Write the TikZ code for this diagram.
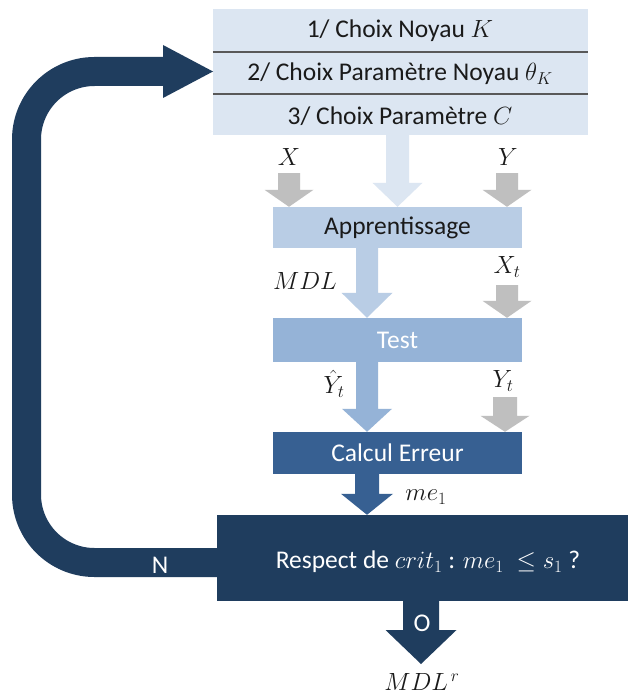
\documentclass[tikz,border=0pt]{standalone}
\usepackage{fontspec}
\setmainfont{Carlito}
\usetikzlibrary{calc}
\definecolor{cA}{HTML}{DCE6F2}
\definecolor{cB}{HTML}{B9CDE5}
\definecolor{cC}{HTML}{95B3D7}
\definecolor{cD}{HTML}{376092}
\definecolor{cE}{HTML}{1F3D5E}
\definecolor{cG}{HTML}{BFBFBF}
\definecolor{cL}{HTML}{595959}
\definecolor{cT}{HTML}{1A1A1A}
% #1 start, #2 end (tip), #3 shaft half width, #4 head half width, #5 head length, #6 colour
\newcommand\blockarrow[6]{%
  \fill[#6] let \p1=(#1), \p2=(#2) in
    (\x2-#3,\y1) -- (\x2-#3,\y2+#5) -- (\x2-#4,\y2+#5) -- (\x2,\y2)
    -- (\x2+#4,\y2+#5) -- (\x2+#3,\y2+#5) -- (\x2+#3,\y1) -- cycle;}
\tikzset{
  txt/.style={font=\fontsize{25.5}{29}\selectfont, text=cT, inner sep=0pt},
  wtxt/.style={txt, text=white},
  blk/.style={draw=none, inner sep=0pt, minimum width=249pt}
}
\begin{document}
\begin{tikzpicture}[x=1pt,y=-1pt]
\fill[white] (0,0) rectangle (628,695);
\useasboundingbox (0,0) rectangle (628,695);
% column coordinates
\coordinate (cmid) at (367,0);
\coordinate (cleft) at (289,0);
\coordinate (cright) at (507,0);
\coordinate (cyt) at (505,0);
\coordinate (cout) at (421,0);
% boxes
\node[blk, fill=cA, minimum width=375pt, minimum height=126pt] (top) at (400.5,72) {};
\coordinate (l1) at (0,52);
\coordinate (l2) at (0,94);
\draw[cL, line width=2pt] (top.west |- l1) -- (top.east |- l1);
\draw[cL, line width=2pt] (top.west |- l2) -- (top.east |- l2);
\node[txt] (r1) at (400,31) {1/ Choix Noyau $K$};
\node[txt] (r2) at (400,74) {2/ Choix Paramètre Noyau $\theta_K$};
\node[txt] (r3) at (400,116) {3/ Choix Paramètre $C$};
\node[blk, fill=cB, minimum height=41pt] (app) at (397.5,227.5) {};
\node[txt] (appt) at (app.center) {Apprentissage};
\node[blk, fill=cC, minimum height=44pt] (test) at (397.5,340) {};
\node[wtxt] (testt) at (test.center) {Test};
\node[blk, fill=cD, minimum height=42pt] (calc) at (397.5,453) {};
\node[wtxt] (calct) at (calc.center) {Calcul Erreur};
\node[blk, fill=cE, minimum width=411pt, minimum height=86pt] (dec) at (422.5,558) {};
\node[wtxt] (dect) at (428,562) {Respect de $crit_1$ : $me_1\ \leq s_1$ ?};
% labels
\node[txt] (lX) at (289,157) {$X$};
\node[txt] (lY) at (508,157) {$Y$};
\node[txt] (lMDL) at (305,281) {$MDL$};
\node[txt] (lXt) at (507,267) {$X_t$};
\node[txt] (lYh) at (334,384) {$\hat{Y}_t$};
\node[txt] (lYt) at (503,381) {$Y_t$};
\node[txt] (lme) at (426,497) {$me_1$};
% block arrows
\blockarrow{top.south -| app.north}{app.north}{11.5pt}{25pt}{24pt}{cA}
\coordinate (gX) at (289,173);
\coordinate (gY) at (507,173);
\blockarrow{gX}{app.north -| cleft}{11pt}{24.5pt}{17pt}{cG}
\blockarrow{gY}{app.north -| cright}{11pt}{24.5pt}{17pt}{cG}
\blockarrow{app.south -| cmid}{test.north -| cmid}{11pt}{25.5pt}{25pt}{cB}
\coordinate (gXt) at (507,285);
\blockarrow{gXt}{test.north -| cright}{11pt}{24.5pt}{17pt}{cG}
\blockarrow{test.south -| cmid}{calc.north -| cmid}{11pt}{25pt}{23pt}{cC}
\coordinate (gYt) at (505,397);
\blockarrow{gYt}{calc.north -| cyt}{12pt}{24.5pt}{16pt}{cG}
\blockarrow{calc.south -| cmid}{dec.north -| cmid}{12pt}{26pt}{21pt}{cD}
\coordinate (outtip) at (421,664);
\blockarrow{dec.south -| cout}{outtip}{18pt}{35.5pt}{34pt}{cE}
% loop back arrow
\coordinate (nrow) at (0,562.5);
\coordinate (lc1) at (26.5,562.5);
\coordinate (lc2) at (26.5,71.5);
\coordinate (lhead) at (163,71.5);
\coordinate (ltip) at (213,71.5);
\draw[cE, line width=29pt, rounded corners=68pt] (dec.west |- nrow) -- (lc1) -- (lc2) -- (lhead);
\fill[cE] (lhead) ++(0,-26.5) -- (ltip) -- ($(lhead)+(0,26.5)$) -- cycle;
% outcome labels
\node[wtxt] (lN) at (160,565) {N};
\node[wtxt] (lO) at (422,623) {O};
\node[txt] (lMDLr) at (422,682) {$MDL^{\,r}$};
\end{tikzpicture}
\end{document}
